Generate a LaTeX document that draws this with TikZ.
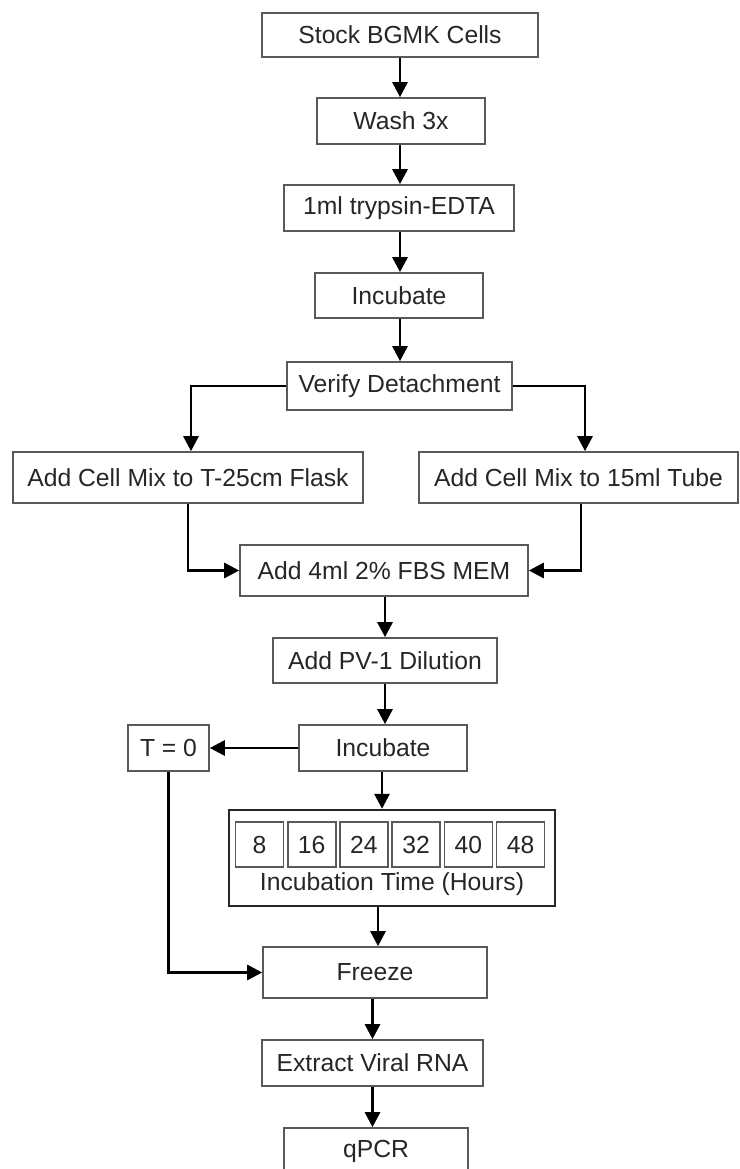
\documentclass[tikz,border=0pt]{standalone}
\usepackage{fontspec}
\setmainfont{Liberation Sans}
\usetikzlibrary{arrows.meta}
\begin{document}
\begin{tikzpicture}[>={Triangle[width=15bp,length=15bp]},line join=miter,
  every node/.style={font=\fontsize{24.8}{30}\selectfont,text=black!85},
  box/.style={draw=black!65,line width=1.6bp,inner sep=0pt},
  hbox/.style={box,minimum width=48bp,minimum height=45bp},
  flow/.style={->,line width=2.7bp,black}]
  \useasboundingbox (0bp,0bp) rectangle (740bp,1169bp);
%%
  % Node: stock
  \node[box,minimum width=276bp,minimum height=44bp] (stock) at (400bp,1134bp) {Stock BGMK Cells};
  % Node: wash
  \node[box,minimum width=168bp,minimum height=46bp] (wash) at (401bp,1048bp) {Wash 3x};
  % Node: tryp
  \node[box,minimum width=230bp,minimum height=46bp] (tryp) at (399bp,961bp) {1ml trypsin-EDTA};
  % Node: incA
  \node[box,minimum width=168bp,minimum height=45bp] (incA) at (399bp,873.5bp) {Incubate};
  % Node: verify
  \node[box,minimum width=225bp,minimum height=48bp] (verify) at (399.5bp,783bp) {Verify Detachment};
  % Node: flask
  \node[box,minimum width=350bp,minimum height=51bp] (flask) at (188bp,691.5bp) {Add Cell Mix to T-25cm Flask};
  % Node: tube
  \node[box,minimum width=319bp,minimum height=51bp] (tube) at (578.5bp,691.5bp) {Add Cell Mix to 15ml Tube};
  % Node: fbs
  \node[box,minimum width=288bp,minimum height=51bp] (fbs) at (384bp,598.5bp) {Add 4ml 2\% FBS MEM};
  % Node: pv
  \node[box,minimum width=224bp,minimum height=45bp] (pv) at (385bp,508.5bp) {Add PV-1 Dilution};
  % Node: tzero
  \node[box,minimum width=81bp,minimum height=46bp] (tzero) at (168.5bp,421bp) {T = 0};
  % Node: incB
  \node[box,minimum width=168bp,minimum height=46bp] (incB) at (383bp,421bp) {Incubate};
  % Node: hours (frame with the six time points)
  \node[draw=black!85,line width=2.4bp,minimum width=326bp,minimum height=96bp] (hours) at (392bp,311bp) {};
  \foreach \t [count=\i from 0] in {8,16,24,32,40,48}
    \node[hbox] (h\t) at (259.5bp+52.2bp*\i,324.5bp) {\t};
  \node (hlabel) at (392bp,285bp) {Incubation Time (Hours)};
  % Node: freeze
  \node[box,minimum width=224bp,minimum height=51bp] (freeze) at (375bp,196.5bp) {Freeze};
  % Node: rna
  \node[box,minimum width=221bp,minimum height=46bp] (rna) at (372.5bp,106bp) {Extract Viral RNA};
  % Node: qpcr
  \node[box,minimum width=184bp,minimum height=46bp] (qpcr) at (376bp,18bp) {qPCR};
%
  % Edge: stock -> wash -> tryp -> incA -> verify
  \draw[flow] (stock.south) -- (stock.south |- wash.north);
  \draw[flow] (wash.south -| stock.south) -- (stock.south |- tryp.north);
  \draw[flow] (tryp.south -| stock.south) -- (stock.south |- incA.north);
  \draw[flow] (incA.south -| stock.south) -- (stock.south |- verify.north);
  % Edge: verify -> flask
  \draw[flow] (verify.west) -| ([xshift=3bp]flask.north);
  % Edge: verify -> tube
  \draw[flow] (verify.east) -| ([xshift=6.5bp]tube.north);
  % Edge: flask -> fbs
  \draw[flow] (flask.south) |- (fbs.west);
  % Edge: tube -> fbs
  \draw[flow] ([xshift=2.5bp]tube.south) |- (fbs.east);
  % Edge: fbs -> pv
  \draw[flow] (fbs.south -| pv.south) -- (pv.north);
  % Edge: pv -> incB
  \draw[flow] (pv.south) -- (pv.south |- incB.north);
  % Edge: incB -> tzero
  \draw[flow] (incB.west) -- (tzero.east);
  % Edge: incB -> hours
  \draw[flow] ([xshift=-1bp]incB.south) -- ([xshift=-1bp]incB.south |- hours.north);
  % Edge: hours -> freeze
  \draw[flow] ([xshift=3bp]freeze.north |- hours.south) -- ([xshift=3bp]freeze.north);
  % Edge: tzero -> freeze
  \draw[flow] (tzero.south) |- (freeze.west);
  % Edge: freeze -> rna -> qpcr
  \draw[flow] (freeze.south -| rna.south) -- (rna.north);
  \draw[flow] (rna.south) -- (rna.south |- qpcr.north);
%
\end{tikzpicture}
\end{document}
